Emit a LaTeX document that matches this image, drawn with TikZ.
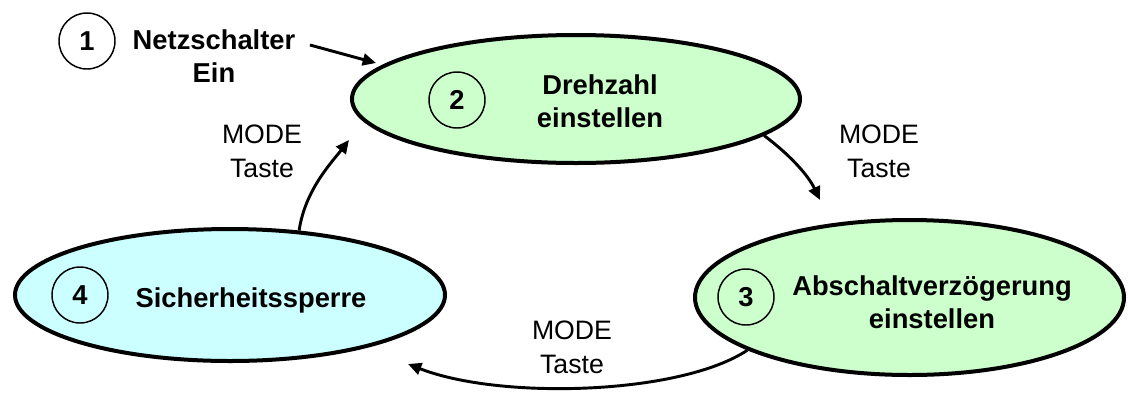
\documentclass[tikz,border=0pt]{standalone}
\usepackage{fontspec}
\setmainfont{Liberation Sans}
\usetikzlibrary{shapes.geometric,arrows.meta}
\definecolor{lgreen}{HTML}{CCFFCC}
\definecolor{lcyan}{HTML}{CCFFFF}
\begin{document}
\begin{tikzpicture}[x=0.75pt,y=-0.75pt,
  state/.style={ellipse,draw,line width=3pt,inner sep=0pt},
  num/.style={circle,draw,line width=1.1pt,minimum size=42pt,inner sep=0pt,font=\fontsize{20.5}{25}\selectfont\bfseries},
  lbl/.style={align=center,inner sep=0pt,font=\fontsize{20.5}{24.75}\selectfont\bfseries},
  modelbl/.style={align=center,inner sep=0pt,font=\fontsize{20}{25.5}\selectfont},
  conn/.style={line width=2.2pt,-{Triangle[length=10pt,width=9pt]}}]
\useasboundingbox (0,0) rectangle (1128,394);
% states
\node[state,fill=lgreen,minimum width=448*0.75pt,minimum height=128*0.75pt] (e2) at (576,99) {};
\node[state,fill=lgreen,minimum width=429*0.75pt,minimum height=155*0.75pt] (e3) at (909.5,297.5) {};
\node[state,fill=lcyan,minimum width=430*0.75pt,minimum height=132*0.75pt] (e4) at (230,295) {};
% numbers
\node[num,fill=white] (n1) at (87,41) {1};
\node[num] (n2) at (457,100) {2};
\node[num] (n3) at (746,297) {3};
\node[num] (n4) at (80,295) {4};
% texts
\node[lbl] (t1) at (214,56) {Netzschalter\\Ein};
\node[lbl] (t2) at (600,101) {Drehzahl\\einstellen};
\node[lbl] (t3) at (932,302) {Abschaltverzögerung\\einstellen};
\node[lbl,anchor=base] (t4) at (251,307) {Sicherheitssperre};
\node[modelbl] (m1) at (262,151) {MODE\\Taste};
\node[modelbl] (m2) at (879,151) {MODE\\Taste};
\node[modelbl] (m3) at (572,347) {MODE\\Taste};
% free ends
\coordinate (a1s) at (310,45);
\coordinate (a1e) at (376,63);
\coordinate (a2e) at (349,140);
\coordinate (a3e) at (820,200);
\coordinate (a4e) at (408,364);
% connectors
\draw[conn] (a1s) -- (a1e);
\draw[conn] (e4.43) .. controls (305,190) and (332,162) .. (a2e);
\draw[conn] (e2.-11) .. controls (790,155) and (808,175) .. (a3e);
\draw[conn] (e3.198) .. controls (680,395) and (500,400) .. (a4e);
\end{tikzpicture}
\end{document}
